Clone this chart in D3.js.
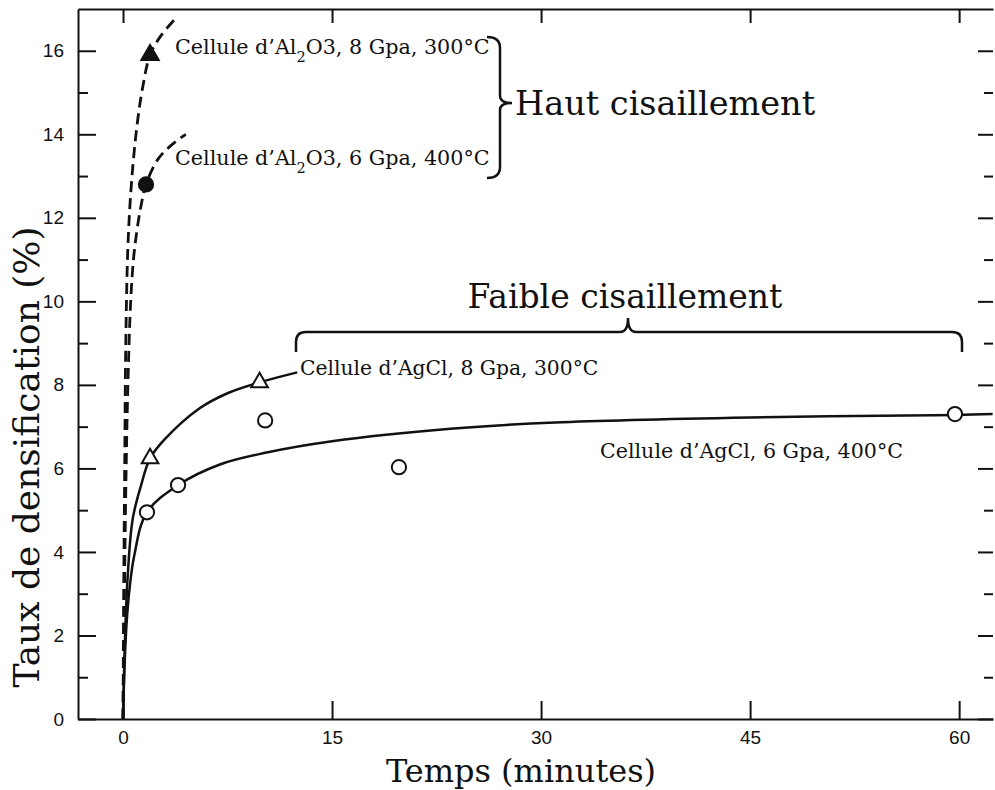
<!DOCTYPE html>
<html>
<head>
<meta charset="utf-8">
<script src="https://cdn.jsdelivr.net/npm/d3@7"></script>
<style>
  body { margin: 0; background: #fff; }
  svg { display: block; }
</style>
</head>
<body>
<script>
// tick values
var xTicks = [0, 15, 30, 45, 60];
var yMajor = [0, 2, 4, 6, 8, 10, 12, 14, 16];
var yMinor = [1, 3, 5, 7, 9, 11, 13, 15];

// fitted curves [minutes, %]
var al8Curve = [[0, 0], [0.05, 3], [0.12, 6], [0.2, 9], [0.35, 11.3], [0.6, 12.8], [1.0, 14.2], [1.4, 15.1], [1.94, 15.9], [2.7, 16.35], [3.7, 16.75]];
var al6Curve = [[0, 0], [0.1, 3], [0.2, 5.5], [0.35, 8], [0.55, 10], [0.75, 11], [1.0, 11.7], [1.3, 12.3], [1.65, 12.8], [2.5, 13.4], [3.5, 13.75], [4.5, 14.0]];
var ag8Curve = [[0, 0], [0.15, 2], [0.35, 3.5], [0.7, 4.8], [1.3, 5.6], [1.94, 6.24], [3, 6.7], [5.5, 7.44], [7.5, 7.8], [9.8, 8.06], [12.5, 8.3]];
var ag6Curve = [[0, 0], [0.3, 2.5], [0.8, 3.9], [1.72, 4.95], [3.95, 5.6], [7, 6.1], [10.3, 6.38], [15, 6.65], [23.5, 6.95], [31, 7.1], [45, 7.22], [60, 7.28], [62.4, 7.3]];

// measured points
var al8Points = [[1.94, 15.9]];
var al6Points = [[1.65, 12.8]];
var ag8Points = [[1.94, 6.24], [9.8, 8.06]];
var ag6Points = [[1.72, 4.95], [3.95, 5.6], [10.2, 7.15], [19.8, 6.03], [59.7, 7.3]];

var width = 995, height = 790;
var ink = "#111";
var serif = "'DejaVu Serif', serif";

var svg = d3.select("body").append("svg")
    .attr("width", width)
    .attr("height", height);

var x = d3.scaleLinear().domain([-3.23, 62.43]).range([78, 993]);
var y = d3.scaleLinear().domain([0, 17]).range([719, 9]);

// bottom axis, ticks inside
svg.append("g")
    .attr("transform", "translate(0," + y(0) + ")")
    .call(d3.axisBottom(x).tickValues(xTicks).tickSizeInner(-18).tickSizeOuter(0).tickPadding(12));

// top axis, no labels
svg.append("g")
    .attr("transform", "translate(0," + y(17) + ")")
    .call(d3.axisTop(x).tickValues(xTicks).tickSizeInner(-14).tickSizeOuter(0).tickFormat(""));

// left axis
svg.append("g")
    .attr("transform", "translate(" + x(-3.23) + ",0)")
    .call(d3.axisLeft(y).tickValues(yMajor).tickSizeInner(-18).tickSizeOuter(0).tickPadding(14));
svg.append("g")
    .attr("transform", "translate(" + x(-3.23) + ",0)")
    .call(d3.axisLeft(y).tickValues(yMinor).tickSizeInner(-10).tickSizeOuter(0).tickFormat(""))
    .select(".domain").remove();

// right edge ticks
svg.append("g")
    .attr("transform", "translate(" + x(62.43) + ",0)")
    .call(d3.axisRight(y).tickValues(yMajor).tickSizeInner(-15).tickSizeOuter(0).tickFormat(""))
    .select(".domain").remove();
svg.append("g")
    .attr("transform", "translate(" + x(62.43) + ",0)")
    .call(d3.axisRight(y).tickValues(yMinor).tickSizeInner(-9).tickSizeOuter(0).tickFormat(""))
    .select(".domain").remove();

svg.selectAll(".domain").attr("stroke", ink).attr("stroke-width", 2);
svg.selectAll(".tick line").attr("stroke", ink).attr("stroke-width", 2);
svg.selectAll(".tick text")
    .attr("fill", ink)
    .style("font-family", "'Liberation Sans', sans-serif")
    .style("font-size", "19px");

// curves
var line = d3.line()
    .x(function(d) { return x(d[0]); })
    .y(function(d) { return y(d[1]); })
    .curve(d3.curveCatmullRom.alpha(0.5));

[al8Curve, al6Curve].forEach(function(c) {
  svg.append("path").datum(c)
      .attr("d", line)
      .attr("fill", "none")
      .attr("stroke", ink)
      .attr("stroke-width", 2.8)
      .attr("stroke-dasharray", "11,6");
});
[ag8Curve, ag6Curve].forEach(function(c) {
  svg.append("path").datum(c)
      .attr("d", line)
      .attr("fill", "none")
      .attr("stroke", ink)
      .attr("stroke-width", 2.5);
});

// markers
function drawMarkers(points, type, size, filled) {
  svg.append("g").selectAll("path")
      .data(points)
      .enter()
      .append("path")
      .attr("transform", function(d) { return "translate(" + x(d[0]) + "," + y(d[1]) + ")"; })
      .attr("d", d3.symbol().type(type).size(size))
      .attr("fill", filled ? ink : "#fff")
      .attr("stroke", ink)
      .attr("stroke-width", 2);
}
drawMarkers(al8Points, d3.symbolTriangle, 130, true);
drawMarkers(al6Points, d3.symbolCircle, 160, true);
drawMarkers(ag8Points, d3.symbolTriangle, 120, false);
drawMarkers(ag6Points, d3.symbolCircle, 160, false);

// annotations
function label(px, py, size, parts) {
  var t = svg.append("text")
      .attr("x", px)
      .attr("y", py)
      .attr("fill", ink)
      .style("font-family", serif)
      .style("font-size", size + "px");
  parts.forEach(function(p) {
    var s = t.append("tspan").text(p[0]);
    if (p[1]) s.attr("baseline-shift", "sub").style("font-size", (size * 0.7) + "px");
  });
  return t;
}
label(175, 54, 20.7, [["Cellule d\u2019Al"], ["2", true], ["O3, 8 Gpa, 300\u00b0C"]]);
label(175, 165, 20.7, [["Cellule d\u2019Al"], ["2", true], ["O3, 6 Gpa, 400\u00b0C"]]);
label(300, 375, 20.3, [["Cellule d\u2019AgCl, 8 Gpa, 300\u00b0C"]]);
label(600, 458, 20.6, [["Cellule d\u2019AgCl, 6 Gpa, 400\u00b0C"]]);
label(515, 115, 33.5, [["Haut cisaillement"]]);
label(625, 308, 33, [["Faible cisaillement"]]).attr("text-anchor", "middle");

// brackets
svg.append("path")
    .attr("d", "M487,37 Q500,37 500,48 L500,96 Q500,103 512,103 Q500,103 500,110 L500,167 Q500,178 487,178")
    .attr("fill", "none").attr("stroke", ink).attr("stroke-width", 2.5);
svg.append("path")
    .attr("d", "M296,352 L296,342 Q296,332 306,332 L620,332 Q628,332 628,318 Q628,332 636,332 L952,332 Q962,332 962,342 L962,352")
    .attr("fill", "none").attr("stroke", ink).attr("stroke-width", 2.5);

// axis titles
svg.append("text")
    .attr("x", 521).attr("y", 782)
    .attr("text-anchor", "middle")
    .attr("fill", ink)
    .style("font-family", serif)
    .style("font-size", "32px")
    .text("Temps (minutes)");
svg.append("text")
    .attr("transform", "translate(39,457) rotate(-90)")
    .attr("text-anchor", "middle")
    .attr("fill", ink)
    .style("font-family", serif)
    .style("font-size", "36px")
    .text("Taux de densification (%)");
</script>
</body>
</html>
